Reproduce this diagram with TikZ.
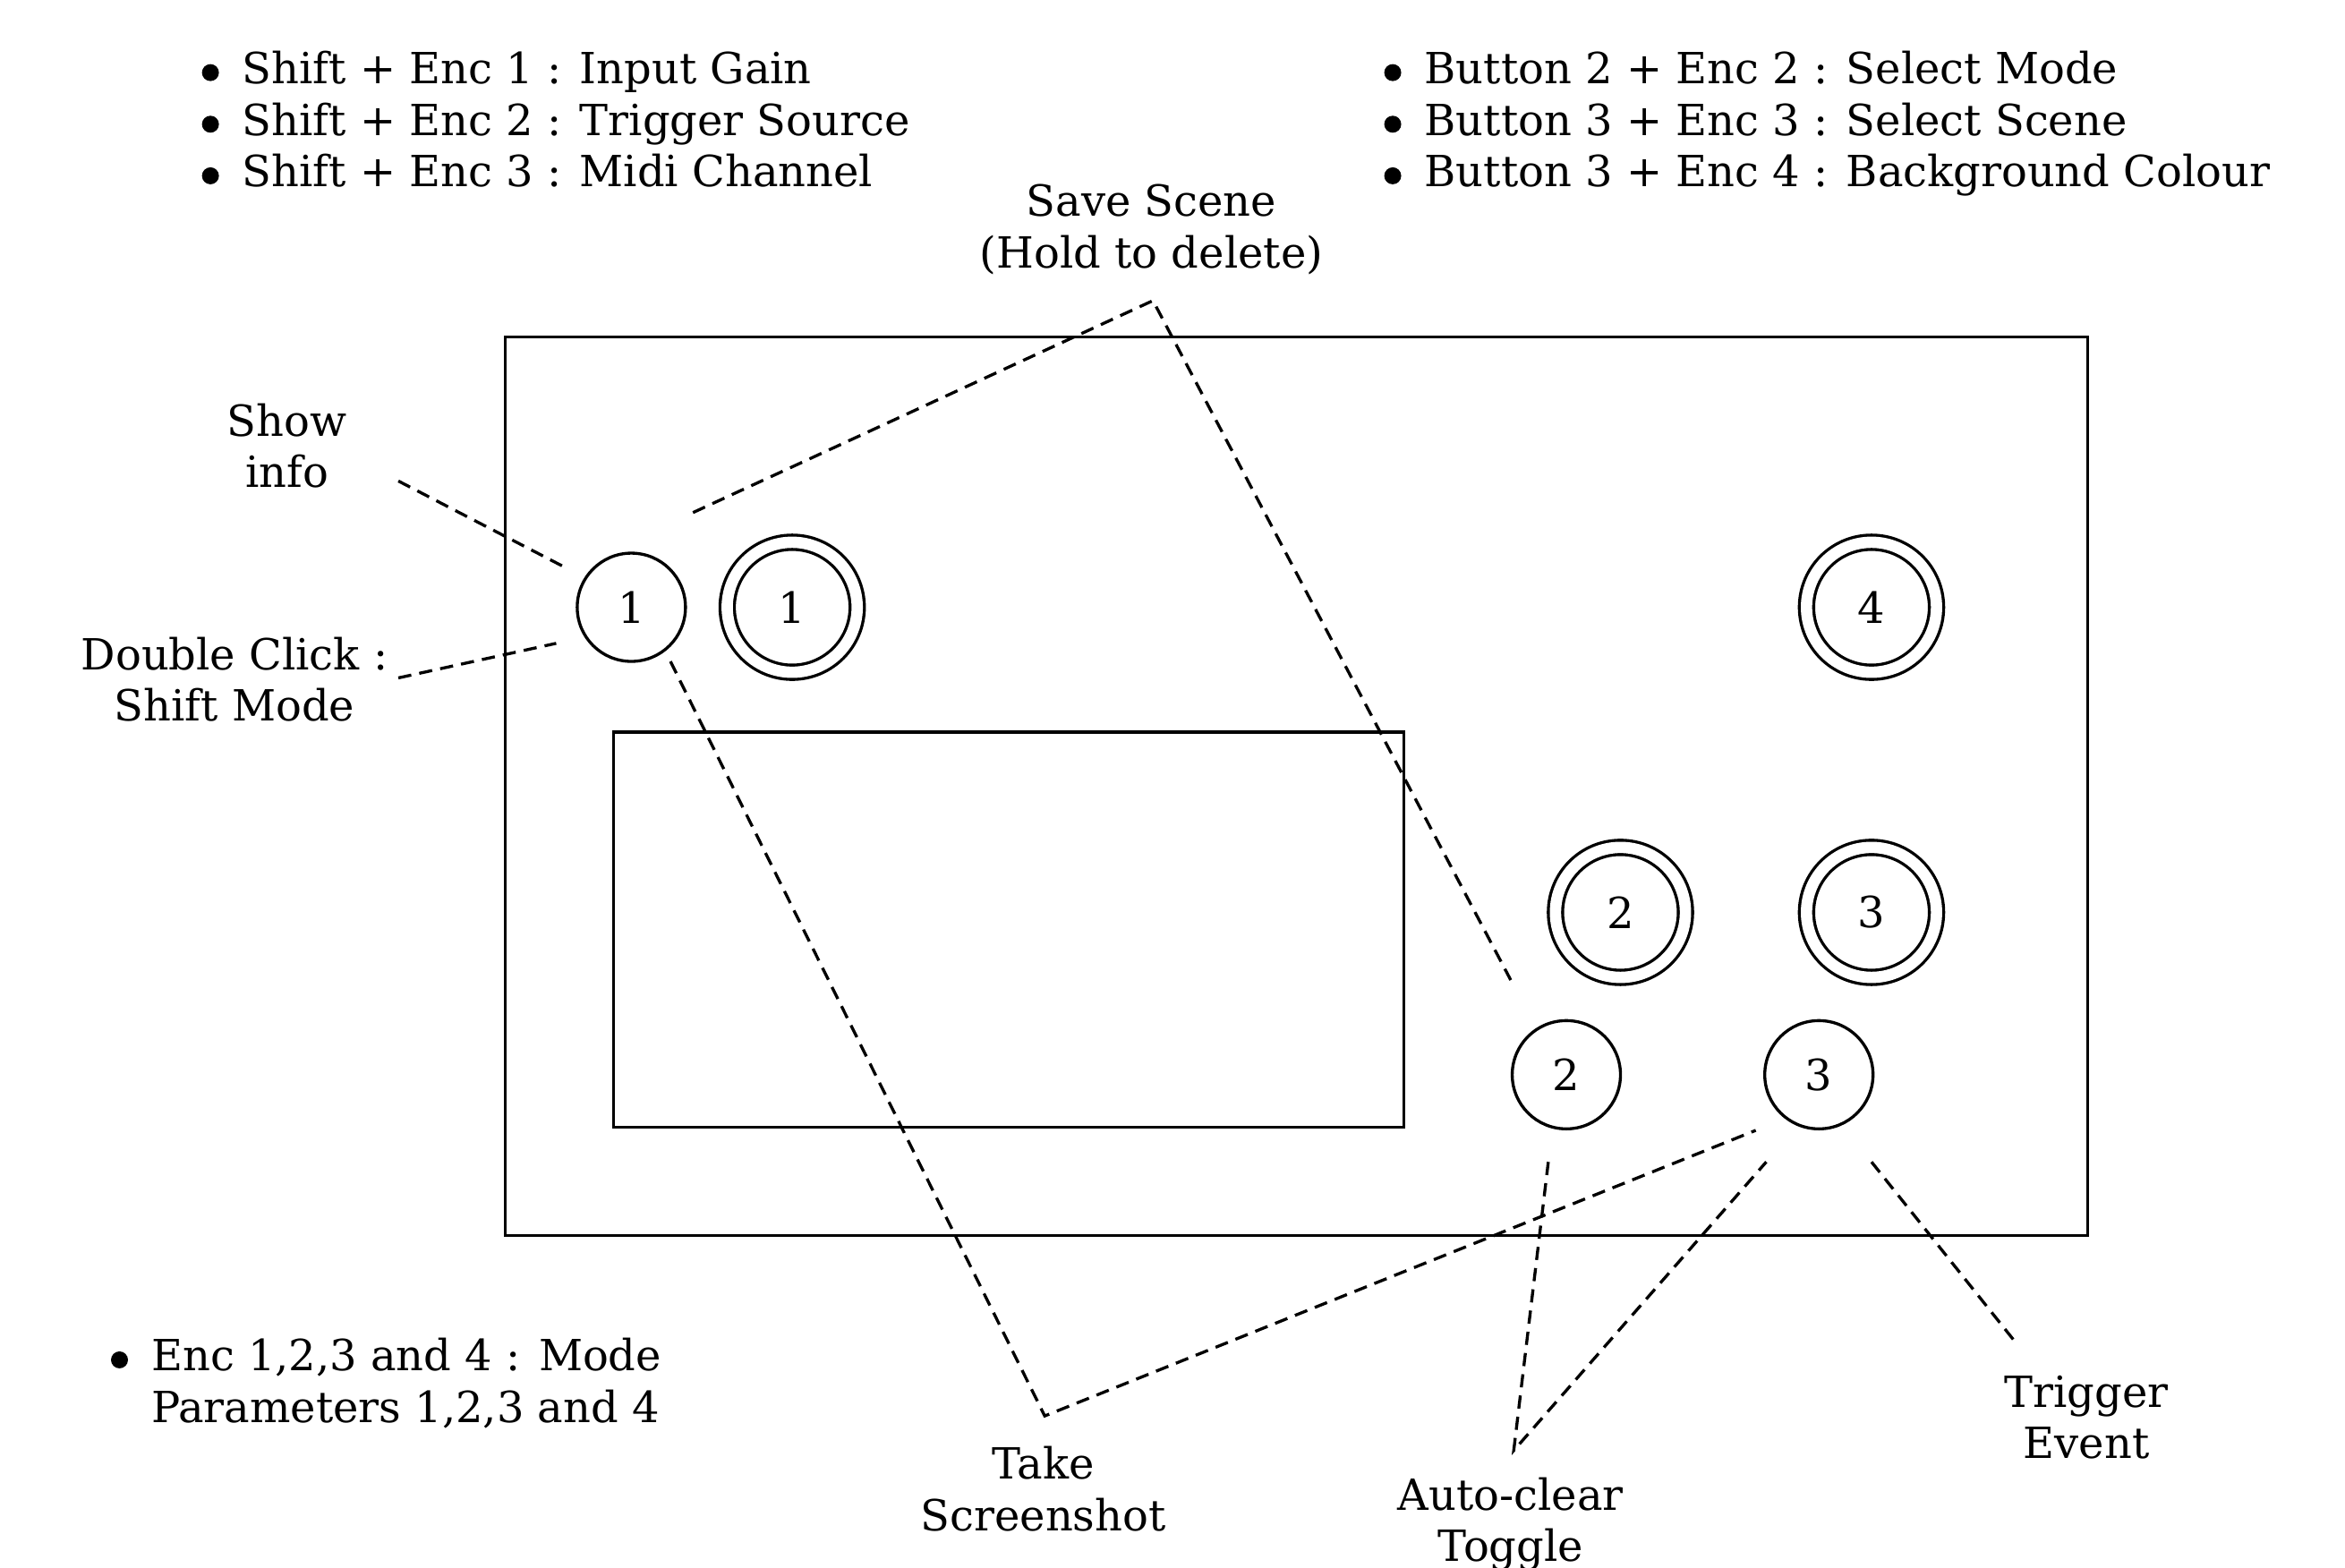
\documentclass[tikz,border=0pt]{standalone}
\usepackage{fontspec}
\setmainfont{DejaVu Serif}
\usetikzlibrary{positioning,calc}
\tikzset{
    panel/.style={draw, line width=0.95pt, minimum width=17.685cm, minimum height=10.043cm, inner sep=0pt},
    screen/.style={draw, line width=0.95pt, minimum width=8.834cm, minimum height=4.417cm, inner sep=0pt},
    button/.style={circle, draw, line width=0.95pt, minimum size=1.21cm, inner sep=0pt},
    encoder/.style={circle, draw, line width=0.95pt, double, double distance=3.6pt, minimum size=1.453cm, inner sep=0pt},
    note/.style={align=center, inner sep=0pt},
    list/.style={anchor=base west, inner sep=0pt},
    bullet/.style={circle, fill, minimum size=5.4pt, inner sep=0pt},
    hint/.style={line width=0.95pt, dash pattern=on 4.2pt off 2.6pt}
}
\newcommand{\itm}{\hspace*{12.8pt}}

\begin{document}
\begin{tikzpicture}[x=0.016795cm, y=-0.016795cm, font=\fontsize{13.65}{16.4}\selectfont]
      \useasboundingbox (0,0) rectangle (1560,1043);

      % --- Shortcut lists ---
      \node (shiftlist) [list] at (134,55.6) {\begin{tabular}[t]{@{}l@{}}
          \itm Shift + Enc 1 : Input Gain\\
          \itm Shift + Enc 2 : Trigger Source\\
          \itm Shift + Enc 3 : Midi Channel
      \end{tabular}};
      \node (buttonlist) [list] at (920.5,55.6) {\begin{tabular}[t]{@{}l@{}}
          \itm Button 2 + Enc 2 : Select Mode\\
          \itm Button 3 + Enc 3 : Select Scene\\
          \itm Button 3 + Enc 4 : Background Colour
      \end{tabular}};
      \node (enclist) [list] at (73.5,912) {\begin{tabular}[t]{@{}l@{}}
          \itm Enc 1,2,3 and 4 : Mode\\
          \itm Parameters 1,2,3 and 4
      \end{tabular}};

      % bullets
      \foreach \k in {0,1,2} {
          \node[bullet] at ($(shiftlist.base west)+(6,\k*34.33-7.3)$) {};
          \node[bullet] at ($(buttonlist.base west)+(6,\k*34.33-7.3)$) {};
      }
      \node[bullet] at ($(enclist.base west)+(6,-7.3)$) {};

      % --- Panel and screen ---
      \node (panel) [panel] at (862.5,523) {};
      \node (screen) [screen] at (671,618.5) {};

      % --- Buttons and encoders ---
      \node (btn1) [button] at (420,404) {1};
      \node (enc1) [encoder] at (527,404) {1};
      \node (enc4) [encoder] at (1245,404) {4};
      \node (enc2) [encoder] at (1078,607) {2};
      \node (enc3) [encoder] at (1245,607) {3};
      \node (btn2) [button] at (1042,715) {2};
      \node (btn3) [button] at (1210,715) {3};

      % --- Labels ---
      \node (save) [note] at (766,152.5) {Save Scene\\(Hold to delete)};
      \node (info) [note] at (191,296.5) {Show\\info};
      \node (shift) [note] at (156,452) {Double Click :\\Shift Mode};
      \node (shot) [note] at (694,990.5) {Take\\Screenshot};
      \node (clear) [note] at (1005,1014) {Auto-clear\\Toggle};
      \node (trig) [note] at (1388,943) {Trigger\\Event};

      % --- Line ends ---
      \coordinate (info-a) at (265,320);
      \coordinate (info-b) at (375,377);
      \coordinate (shift-a) at (265,451);
      \coordinate (shift-b) at (370,428);
      \coordinate (save-a) at (461,341);
      \coordinate (save-tip) at (767,200);
      \coordinate (save-b) at (1005,652);
      \coordinate (shot-a) at (446,440);
      \coordinate (shot-tip) at (695,942);
      \coordinate (shot-b) at (1168,752);
      \coordinate (clear-a) at (1030,773);
      \coordinate (clear-tip) at (1007,965);
      \coordinate (clear-b) at (1175,773);
      \coordinate (trig-a) at (1245,773);
      \coordinate (trig-b) at (1340,892);

      % --- Dashed pointers ---
      \draw[hint] (info-a) -- (info-b);
      \draw[hint] (shift-a) -- (shift-b);
      \draw[hint] (save-a) -- (save-tip) -- (save-b);
      \draw[hint] (shot-a) -- (shot-tip) -- (shot-b);
      \draw[hint] (clear-a) -- (clear-tip) -- (clear-b);
      \draw[hint] (trig-a) -- (trig-b);
\end{tikzpicture}
\end{document}
